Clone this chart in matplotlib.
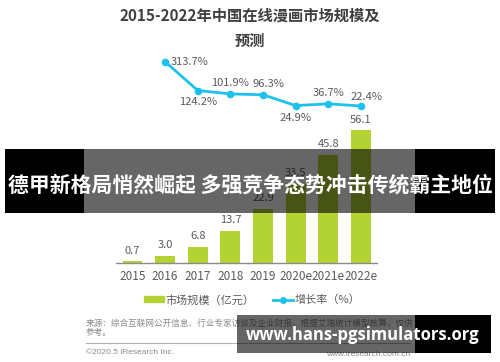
import matplotlib
matplotlib.use("Agg")
import matplotlib.pyplot as plt
from matplotlib.patches import Rectangle, Patch
from matplotlib.lines import Line2D
import numpy as np

plt.rcParams['font.family'] = ['Noto Sans CJK SC', 'DejaVu Sans']

years = ['2015', '2016', '2017', '2018', '2019', '2020e', '2021e', '2022e']
market_size = [0.7, 3.0, 6.8, 13.7, 22.9, 33.5, 45.8, 56.1]
growth_years = years[1:]
growth_rate = [313.7, 124.2, 101.9, 96.3, 24.9, 36.7, 22.4]

title = '2015-2022年中国在线漫画市场规模及\n预测'
banner_text = '德甲新格局悄然崛起 多强竞争态势冲击传统霸主地位'
site_text = 'www.hans-pgsimulators.org'
source_text = '来源：综合互联网公开信息、行业专家访谈及企业财报，根据艾瑞统计模型核算，仅供\n参考。'

bar_color = '#b3d334'
line_color = '#1ec1ee'
label_color = '#5a5a5a'

W, H = 500, 362
fig = plt.figure(figsize=(W / 100, H / 100), dpi=100)


def fx(px):
    return px / W


def fy(py):
    return 1 - py / H


# bars axis
ax = fig.add_axes([fx(116.2), fy(263), fx(261.1), (263 - 50) / H])
x = np.arange(len(years))
ax.bar(x, market_size, width=0.61, color=bar_color, zorder=2)
ax.set_xlim(-0.5, len(years) - 0.5)
ax.set_ylim(0, 213 / 2.365)
for xi, v in zip(x, market_size):
    ax.annotate(f'{v:.1f}', (xi, v), xytext=(0, 4), textcoords='offset points',
                ha='center', va='bottom', fontsize=8, color=label_color)
ax.set_xticks(x)
ax.set_xticklabels(years, fontsize=8.5, color=label_color)
ax.tick_params(axis='x', length=0, pad=5)
ax.set_yticks([])
for s in ['top', 'left', 'right']:
    ax.spines[s].set_visible(False)
ax.spines['bottom'].set_color('#8c8c8c')
ax.spines['bottom'].set_linewidth(1)
ax.patch.set_visible(False)

# growth line on a twin axis
ax2 = ax.twinx()
gx = x[1:]
ax2.plot(gx, growth_rate, color=line_color, lw=2, marker='o', ms=4.5, zorder=3)
ax2.set_ylim(-(263 - 109.4) / 0.152, (109.4 - 50) / 0.152)
ax2.axis('off')
offsets = [(4, 0, 'left', 'center'), (0, -5, 'center', 'top'), (0, 4, 'center', 'bottom'),
           (4, 4, 'center', 'bottom'), (0, -5, 'center', 'top'), (0, 4, 'center', 'bottom'),
           (4, 3, 'center', 'bottom')]
for xi, v, (dx, dy, ha, va) in zip(gx, growth_rate, offsets):
    ax2.annotate(f'{v:.1f}%', (xi, v), xytext=(dx, dy), textcoords='offset points',
                 ha=ha, va=va, fontsize=8, color=label_color)

fig.text(0.5, fy(28), title, ha='center', va='center', fontsize=11,
         fontweight='bold', color='#404040', linespacing=1.75)

handles = [Patch(color=bar_color, label='市场规模（亿元）'),
           Line2D([], [], color=line_color, lw=2, marker='o', ms=4, label='增长率（%）')]
fig.legend(handles=handles, loc='center', bbox_to_anchor=(fx(252), fy(300)), ncol=2,
           frameon=False, fontsize=8, handlelength=1.8, handleheight=0.45,
           handletextpad=0.2, columnspacing=1.6, labelcolor=label_color)

fig.text(fx(86), fy(328), source_text, ha='left', va='center', fontsize=6.2,
         color='#8a8a8a', linespacing=1.1)
fig.add_artist(Line2D([fx(86), fx(410)], [fy(343), fy(343)], color='#b0b0b0', lw=0.8))
fig.text(fx(86), fy(353), '©2020.5 iResearch Inc.', ha='left', va='center',
         fontsize=6, color='#8a8a8a', family='Liberation Sans')
fig.text(fx(410), fy(354), 'www.iresearch.com.cn', ha='right', va='center',
         fontsize=6, color='#8a8a8a', family='Liberation Sans')

# overlay banners
def box(x0, y0, x1, y1, alpha):
    fig.add_artist(Rectangle((fx(x0), fy(y1)), fx(x1 - x0), (y1 - y0) / H,
                             transform=fig.transFigure, facecolor='black',
                             alpha=alpha, lw=0, zorder=5))


box(5, 149, 84, 213, 1)
box(415, 149, 495, 213, 1)
box(84, 149, 415, 213, 0.6)
fig.text(0.5, fy(185), banner_text, ha='center', va='center', fontsize=15,
         fontweight='bold', color='white', zorder=6)

box(237, 315, 415, 353, 0.6)
box(415, 315, 491, 353, 1)
fig.text(fx(363), fy(335), site_text, ha='center', va='center', fontsize=12,
         fontweight='bold', color='white', family='Open Sans', zorder=6)

fig.savefig('out.png', dpi=100)
